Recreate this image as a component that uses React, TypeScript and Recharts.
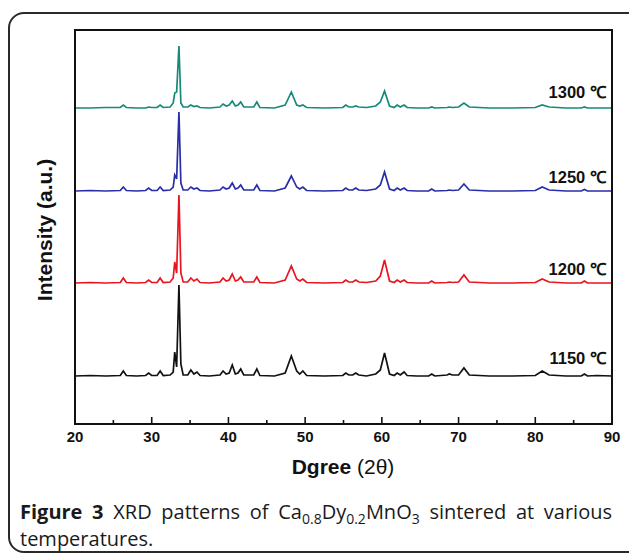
import React from 'react';
import { LineChart, Line, XAxis, YAxis, ReferenceDot } from 'recharts';

// 2θ positions (degrees) shared by all four patterns
const TWO_THETA = [
  20.0, 22.0, 24.0, 25.9, 26.3, 26.7, 28.0, 29.2, 29.6, 30.0,
  30.7, 31.1, 31.5, 32.4, 32.8, 33.0, 33.25, 33.55, 33.8, 34.1,
  34.7, 35.1, 35.5, 35.9, 36.3, 37.5, 38.9, 39.3, 39.7, 40.1,
  40.5, 40.9, 41.25, 41.6, 42.0, 43.3, 43.7, 44.1, 46.0, 47.4,
  48.2, 48.9, 49.3, 49.7, 50.2, 52.5, 54.9, 55.3, 55.7, 56.2,
  56.6, 57.0, 58.0, 59.2, 59.8, 60.35, 61.0, 61.6, 62.0, 62.4,
  62.9, 63.3, 64.5, 66.1, 66.5, 66.9, 68.5, 68.8, 69.2, 70.0,
  70.7, 71.4, 74.0, 77.0, 80.0, 80.9, 81.8, 84.0, 86.0, 86.4,
  86.8, 88.0, 90.0,
];

// Intensities (a.u.) above each pattern's own baseline
const I_1150 = [
  0, 0.5, 0, 0.5, 5, 0.5, 0, 0.5, 3, 0.5,
  0.5, 5, 0.5, 1, 4, 24, 9, 91, 12, 1,
  1, 6, 2, 4, 0.5, 0, 1, 5, 2, 3,
  11, 2, 3, 7, 1, 1, 7, 0.5, 0, 3,
  20, 5, 2, 5, 0.5, 0, 0.5, 3, 1, 1,
  3, 1, 0, 2, 6, 23, 2, 0.5, 3, 1,
  4, 0.5, 0, 0, 2, 0, 1, 2, 1, 1,
  8, 1, 0, 0, 0.5, 5, 1, 0, 0, 2,
  0, 0.5, 0,
];
const I_1200 = [
  0, 0.5, 0, 0.5, 5, 0.5, 0, 0.5, 3, 0.5,
  0.5, 5, 0.5, 1, 5, 21, 10, 88, 10, 1,
  1, 5, 2, 4, 0.5, 0, 1, 5, 2, 3,
  9, 2, 3, 6, 1, 1, 6, 0.5, 0, 3,
  17, 4, 2, 4, 0.5, 0, 0.5, 3, 1, 1,
  3, 1, 0.5, 2, 7, 23, 2, 0.5, 3, 1,
  3, 0.5, 0, 0, 2, 0, 0.5, 1, 0.5, 1,
  8, 1, 0, 0, 0.5, 4, 1, 0, 0, 2,
  0, 0, 0,
];
const I_1250 = [
  0, 0.5, 0, 0.5, 4, 0.5, 0, 0.5, 3, 0.5,
  0.5, 4, 0.5, 1, 4, 16, 12, 79, 8, 1,
  1, 4, 2, 3, 0.5, 0, 1, 4, 2, 3,
  8, 2, 3, 6, 1, 1, 6, 0.5, 0, 3,
  15, 4, 2, 4, 0.5, 0, 0.5, 3, 1, 1,
  3, 1, 0.5, 2, 6, 19, 2, 0.5, 3, 1,
  3, 0.5, 0, 0, 2, 0, 0.5, 1, 0.5, 1,
  7, 1, 0, 0, 0.5, 4, 1, 0, 0, 1.5,
  0, 0, 0,
];
const I_1300 = [
  0, 0, 0.5, 0.5, 3, 0.5, 0, 0, 1, 0.5,
  0.5, 3, 0.5, 1, 5, 15, 16, 62, 5, 1,
  1, 3, 1.5, 2, 0.5, 0, 1, 4, 2, 3,
  7, 2, 3, 6, 1, 1, 6, 0.5, 0, 3,
  16, 3, 2, 3, 0.5, 0, 0.5, 3, 1, 1,
  2, 1, 0.5, 2, 6, 17, 2, 0.5, 3, 1,
  3, 0.5, 0, 0, 1, 0, 0.5, 1, 0.5, 1,
  5, 1, 0, 0, 0.5, 3, 1, 0, 0, 1,
  0, 0, 0,
];

const SERIES_LABELS = ['1150 ℃', '1200 ℃', '1250 ℃', '1300 ℃'];
const SERIES_KEYS = ['s1150', 's1200', 's1250', 's1300'];
const SERIES_VALUES = [I_1150, I_1200, I_1250, I_1300];
const X_TICKS = [20, 30, 40, 50, 60, 70, 80, 90];
const X_MINOR_TICKS = [25, 35, 45, 55, 65, 75, 85];
const X_MAJOR_INNER = [30, 40, 50, 60, 70, 80];

// presentation: vertical stacking of the patterns
const OFFSETS = [48, 141, 233, 316];
const LABEL_LIFT = [18, 14, 14, 16];
const COLORS = ['#111111', '#e8141e', '#2a2ea6', '#17897a'];
const Y_MAX = 394;

const data = TWO_THETA.map((t, i) => {
  const row: Record<string, number> = { t };
  SERIES_KEYS.forEach((k, s) => {
    row[k] = OFFSETS[s] + SERIES_VALUES[s][i];
  });
  return row;
});

const AXIS_FONT = '"Liberation Sans", Arial, sans-serif';
const MARGIN = { top: 30, right: 17, bottom: 102, left: 75 };
const CHART_W = 629;
const CHART_H = 556;
const X_AXIS_H = 30;

const XTick = (props: any) => {
  const { x, y, payload } = props;
  return (
    <text
      x={x}
      y={y + 18}
      textAnchor="middle"
      fontFamily={AXIS_FONT}
      fontWeight="bold"
      fontSize={15}
      fill="#111"
    >
      {payload.value}
    </text>
  );
};

const TempLabel = (text: string) => (props: any) => {
  const { cx, cy } = props;
  return (
    <text
      x={cx}
      y={cy}
      textAnchor="end"
      dominantBaseline="central"
      fontFamily={AXIS_FONT}
      fontWeight="bold"
      fontSize={16.5}
      fill="#111"
    >
      {text}
    </text>
  );
};

const InnerTick = (len: number) => (props: any) => {
  const { cx, cy } = props;
  return <path d={`M${cx},${cy}V${cy - len}`} stroke="#111" strokeWidth={1.6} fill="none" />;
};

const SUB = { fontSize: 14, position: 'relative' as const, top: 5, lineHeight: 1 };

// plot-area box derived from the chart margins
const PLOT_LEFT = MARGIN.left;
const PLOT_TOP = MARGIN.top;
const PLOT_W = CHART_W - MARGIN.left - MARGIN.right;
const PLOT_H = CHART_H - MARGIN.top - MARGIN.bottom - X_AXIS_H;

export default function App() {
  return (
    <div
      style={{
        position: 'fixed',
        left: 0,
        top: 0,
        width: 629,
        height: 556,
        overflow: 'hidden',
        background: '#fff',
      }}
    >
      <div
        style={{
          position: 'absolute',
          left: 8,
          top: 12,
          width: 700,
          height: 541,
          border: '2px solid #2a2a2a',
          borderRadius: 16,
          boxSizing: 'border-box',
        }}
      />
      <div style={{ position: 'absolute', left: 0, top: 0 }}>
        <LineChart width={CHART_W} height={CHART_H} data={data} margin={MARGIN}>
          <XAxis
            dataKey="t"
            type="number"
            domain={[20, 90]}
            ticks={X_TICKS}
            interval={0}
            height={X_AXIS_H}
            axisLine={{ stroke: '#111', strokeWidth: 1.8 }}
            tickLine={false}
            tickSize={0}
            tickMargin={0}
            tick={<XTick />}
          />
          <YAxis type="number" domain={[0, Y_MAX]} allowDataOverflow hide />
          {SERIES_KEYS.map((k, s) => (
            <Line
              key={k}
              dataKey={k}
              type="linear"
              stroke={COLORS[s]}
              strokeWidth={1.7}
              dot={false}
              isAnimationActive={false}
            />
          ))}
          {X_MAJOR_INNER.map((v) => (
            <ReferenceDot
              key={'M' + v}
              x={v}
              y={0}
              r={0}
              ifOverflow="visible"
              shape={InnerTick(7)}
            />
          ))}
          {X_MINOR_TICKS.map((v) => (
            <ReferenceDot
              key={'m' + v}
              x={v}
              y={0}
              r={0}
              ifOverflow="visible"
              shape={InnerTick(4)}
            />
          ))}
          {SERIES_LABELS.map((lab, s) => (
            <ReferenceDot
              key={lab}
              x={89.2}
              y={OFFSETS[s] + LABEL_LIFT[s]}
              r={0}
              shape={TempLabel(lab)}
            />
          ))}
        </LineChart>
      </div>
      <div
        style={{
          position: 'absolute',
          left: PLOT_LEFT - 1,
          top: PLOT_TOP - 1,
          width: PLOT_W + 2,
          height: PLOT_H + 2,
          border: '2px solid #111',
          boxSizing: 'border-box',
          pointerEvents: 'none',
          zIndex: 5,
        }}
      />
      <div
        style={{
          position: 'absolute',
          left: 45,
          top: 230,
          transform: 'translate(-50%, -50%) rotate(-90deg)',
          whiteSpace: 'nowrap',
          fontFamily: AXIS_FONT,
          fontWeight: 'bold',
          fontSize: 21,
          color: '#111',
        }}
      >
        Intensity (a.u.)
      </div>
      <div
        style={{
          position: 'absolute',
          left: 343,
          top: 467,
          transform: 'translate(-50%, -50%)',
          whiteSpace: 'nowrap',
          fontFamily: AXIS_FONT,
          fontSize: 21,
          color: '#111',
        }}
      >
        <b>Dgree</b>
        <span> (2θ)</span>
      </div>
      <div
        style={{
          position: 'absolute',
          left: 20,
          top: 498,
          width: 592,
          fontFamily: '"Open Sans", "Noto Sans", sans-serif',
          fontSize: 20,
          lineHeight: '27px',
          textAlign: 'justify',
          textAlignLast: 'left',
          color: '#1a1a1a',
        }}
      >
        <b>Figure 3</b>
        <span> XRD patterns of Ca</span>
        <span style={SUB}>0.8</span>
        <span>Dy</span>
        <span style={SUB}>0.2</span>
        <span>MnO</span>
        <span style={SUB}>3</span>
        <span> sintered at various </span>
        <span>temperatures.</span>
      </div>
    </div>
  );
}
